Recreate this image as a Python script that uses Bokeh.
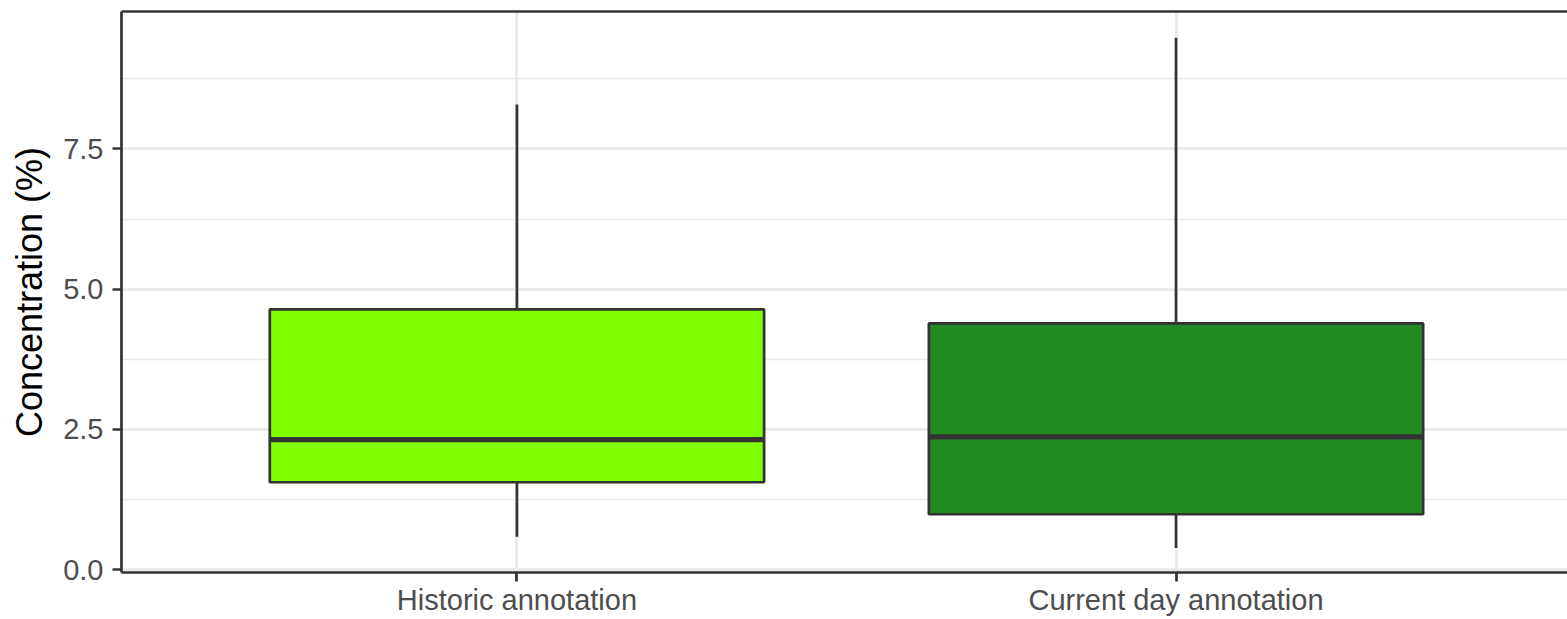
from bokeh.plotting import figure
from bokeh.models import (ColumnDataSource, FixedTicker, LinearAxis, Range1d,
                          NumeralTickFormatter)
from bokeh.embed import file_html
from bokeh.resources import INLINE

# ---- data ----
categories = ["Historic annotation", "Current day annotation"]
lower_whisker = [0.59, 0.39]
q1 = [1.56, 0.99]
median = [2.32, 2.37]
q3 = [4.64, 4.39]
upper_whisker = [8.29, 9.48]
fill_colors = ["#7FFF00", "#228B22"]
y_ticks = [0.0, 2.5, 5.0, 7.5]
y_minor = [1.25, 3.75, 6.25, 8.75]

BOX_W = 0.75
LINE = "#333333"
FONT = "Liberation Sans"

xs = [i + 1 for i in range(len(categories))]
src = ColumnDataSource(dict(
    x=xs, x0=[x - BOX_W / 2 for x in xs], x1=[x + BOX_W / 2 for x in xs],
    lw=lower_whisker, q1=q1, med=median, q3=q3, uw=upper_whisker, color=fill_colors,
))

p = figure(width=1567, height=619, output_backend="svg", toolbar_location=None,
           x_range=Range1d(0.4, 2.594), y_range=Range1d(-0.048, 9.947),
           min_border_left=121, min_border_right=0, min_border_top=11,
           min_border_bottom=47)
p.background_fill_color = "white"
p.border_fill_color = "white"
p.outline_line_color = None

# whiskers
p.segment(x0="x", x1="x", y0="q3", y1="uw", source=src, line_color=LINE, line_width=2.7)
p.segment(x0="x", x1="x", y0="q1", y1="lw", source=src, line_color=LINE, line_width=2.7)
# boxes
p.vbar(x="x", width=BOX_W, bottom="q1", top="q3", source=src, fill_color="color",
       line_color=LINE, line_width=2.7)
# medians
p.segment(x0="x0", x1="x1", y0="med", y1="med", source=src, line_color=LINE,
          line_width=5.3, line_cap="butt")

# grids
p.xgrid.ticker = FixedTicker(ticks=xs)
p.xgrid.grid_line_color = "#EBEBEB"
p.xgrid.grid_line_width = 3
p.ygrid.ticker = FixedTicker(ticks=y_ticks, minor_ticks=y_minor)
p.ygrid.grid_line_color = "#EBEBEB"
p.ygrid.grid_line_width = 3
p.ygrid.minor_grid_line_color = "#EBEBEB"
p.ygrid.minor_grid_line_width = 1.5

# y axis
ya = p.yaxis[0]
ya.ticker = FixedTicker(ticks=y_ticks)
ya.formatter = NumeralTickFormatter(format="0.0")
ya.axis_label = "Concentration (%)"
ya.axis_label_text_font = FONT
ya.axis_label_text_font_size = "36px"
ya.axis_label_text_font_style = "normal"
ya.axis_label_text_color = "black"
ya.axis_label_standoff = 10
ya.major_label_text_font = FONT
ya.major_label_text_font_size = "29px"
ya.major_label_text_color = "#4D4D4D"
ya.major_label_standoff = 9
ya.major_tick_out = 9
ya.major_tick_in = 0
ya.major_tick_line_color = LINE
ya.major_tick_line_width = 2.7
ya.minor_tick_line_color = None
ya.axis_line_color = LINE
ya.axis_line_width = 2.7

# x axis
xa = p.xaxis[0]
xa.ticker = FixedTicker(ticks=xs)
xa.major_label_overrides = {x: c for x, c in zip(xs, categories)}
xa.major_label_text_font = FONT
xa.major_label_text_font_size = "29px"
xa.major_label_text_color = "#4D4D4D"
xa.major_label_standoff = 2
xa.major_tick_out = 9
xa.major_tick_in = 0
xa.major_tick_line_color = LINE
xa.major_tick_line_width = 2.7
xa.minor_tick_line_color = None
xa.axis_line_color = LINE
xa.axis_line_width = 2.7

# top border of the panel
top = LinearAxis(ticker=FixedTicker(ticks=[]), major_tick_out=0, major_tick_in=0,
                 minor_tick_out=0, minor_tick_in=0, major_label_standoff=0,
                 major_label_text_font_size="0px", axis_line_color=LINE,
                 axis_line_width=2.7)
p.add_layout(top, "above")

open("out.html", "w").write(file_html(p, INLINE))
